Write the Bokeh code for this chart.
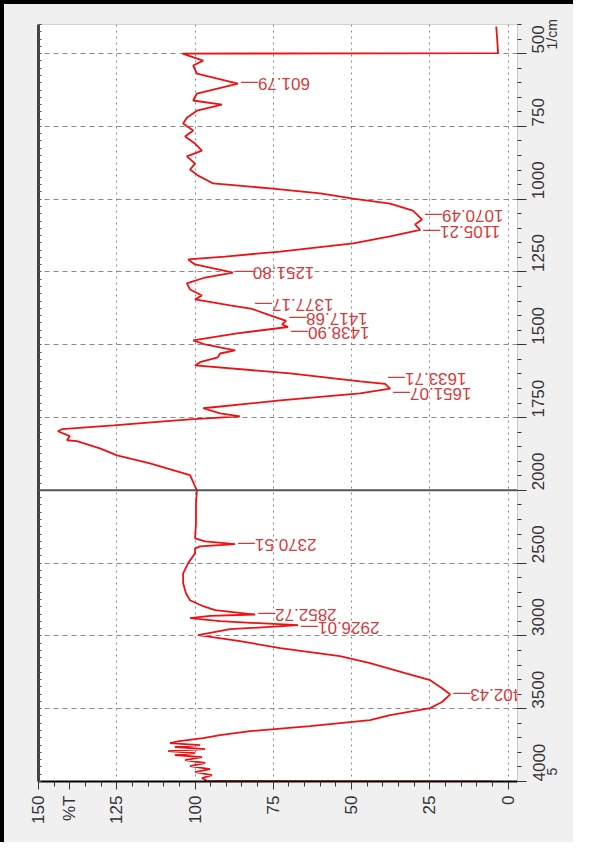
import numpy as np
from math import pi
from bokeh.plotting import figure
from bokeh.models import Range1d, FixedTicker, LinearAxis, Span, ColumnDataSource
from bokeh.core.properties import value
from bokeh.embed import file_html
from bokeh.resources import INLINE

# ---------------- data ----------------
wavenumber = [407, 449, 498, 500, 524, 541, 569, 603, 637, 661, 675, 696, 720, 740, 764, 785,
              809, 833, 853, 878, 898, 919, 946, 963, 980, 998, 1015, 1039, 1063, 1070, 1087,
              1105, 1128, 1152, 1180, 1197, 1207, 1224, 1240, 1252, 1269, 1289, 1310, 1331,
              1344, 1365, 1377, 1399, 1418, 1430, 1439, 1461, 1485, 1499, 1519, 1530, 1543,
              1560, 1571, 1598, 1626, 1634, 1651, 1667, 1691, 1718, 1736, 1746, 1756, 1763,
              1777, 1790, 1797, 1814, 1828, 1831, 1856, 1880, 1907, 1948, 2000, 2088, 2226,
              2330, 2350, 2370, 2385, 2400, 2432, 2500, 2570, 2638, 2707, 2755, 2796, 2823,
              2853, 2862, 2878, 2899, 2926, 2954, 2994, 3036, 3084, 3139, 3187, 3256, 3304,
              3359, 3402, 3454, 3496, 3544, 3578, 3619, 3654, 3682, 3702, 3722, 3736, 3750,
              3763, 3777, 3791, 3805, 3818, 3832, 3853, 3873, 3894, 3915, 3935, 3956, 3977,
              3990, 3998, 4000]
transmittance = [3.8, 3.5, 3.2, 104, 97.4, 100.6, 99.4, 86.3, 99.4, 100.6, 91.4, 99.4, 102.6,
                 103.8, 100.6, 103.2, 100, 97.8, 102.6, 100, 101.6, 99, 94.2, 76, 60, 49.5,
                 37.7, 30.4, 28.1, 27.5, 29.7, 28.1, 37.7, 49.5, 72.8, 90.4, 102.2, 100, 93,
                 87.9, 96.8, 102.6, 101.6, 97.8, 100, 88.8, 81.8, 76, 70.9, 72.2, 70.3, 86.6,
                 100.6, 96.8, 87.2, 92, 92.7, 98.4, 100, 69.6, 47.3, 39.3, 37.7, 47.3, 72.8,
                 97.4, 92, 85.6, 101.6, 110, 126, 142.5, 143.8, 140, 140.9, 137.7, 130.4,
                 124.9, 114.4, 101.6, 99.4, 99.7, 99.7, 100, 96.8, 87.2, 98.4, 100, 100, 102.2,
                 103.8, 103.8, 102.9, 101.6, 97.4, 93.6, 80.8, 95.2, 101.6, 92, 67.1, 88.8, 99,
                 85.6, 72.8, 53.7, 44.1, 32.9, 24.9, 21.1, 18.5, 21.1, 24.9, 37.7, 44.1, 63.3,
                 82.4, 92, 97.4, 105, 108, 98.4, 106.4, 96.8, 108.6, 100, 106.4, 97.8, 103.2,
                 96.8, 101.6, 95.2, 100, 94.6, 97.8, 96.5, 97, 5]

peak_labels = ["601.79", "1070.49", "1105.21", "1251.80", "1377.17", "1417.68", "1438.90",
               "1633.71", "1651.07", "2370.51", "2852.72", "2926.01", "3402.43"]
peak_wavenumber = [601.79, 1070.49, 1105.21, 1251.80, 1377.17, 1417.68, 1438.90,
                   1633.71, 1651.07, 2370.51, 2852.72, 2926.01, 3402.43]
peak_transmittance = [86.3, 27.5, 28.1, 87.9, 81.8, 70.9, 70.3, 39.3, 37.7, 87.2, 80.8, 67.1, 18.5]
label_dy = [0, -4, 2, 0, -5, -2, 6, -5, 5, 0, 0, 2, 0]  # label nudges in px

t_ticks = [0, 25, 50, 75, 100, 125, 150]
t_unit_label = "%T"
t_unit_pos = 140
wn_ticks = [500, 750, 1000, 1250, 1500, 1750, 2000, 2500, 3000, 3500, 4000]
wn_side_texts = {486: "1/cm", 3958: "5"}   # wavenumber position -> text beside the axis


def wn_axis(w):
    """Shimadzu-style axis: 4000-2000 cm-1 drawn at half scale."""
    w = np.asarray(w, dtype=float)
    return np.where(w <= 2000, w, 2000 + (w - 2000) / 2.0)


FONT = "Liberation Sans"
RED = "#ee1111"
LABEL_RED = "#d43c3c"

p = figure(width=573, height=842,
           x_range=Range1d(150, -3), y_range=Range1d(3000, 400),
           y_axis_location="right",
           output_backend="svg", toolbar_location=None,
           min_border_left=38, min_border_top=24, min_border_right=56, min_border_bottom=61,
           background_fill_color="white", border_fill_color=None,
           outline_line_color="#d0d0d0")
p.styles = {"background-color": "#f0f0f0", "box-shadow": "inset 4px 4px 0 0 #000000"}

# right (wavenumber) axis
ax = p.yaxis[0]
ax.ticker = FixedTicker(ticks=[float(v) for v in wn_axis(wn_ticks)],
                        minor_ticks=list(range(400, 3001, 50)))
ax.major_label_overrides = {int(u): str(w) for u, w in zip(wn_axis(wn_ticks), wn_ticks)}
ax.major_label_orientation = pi / 2
ax.major_label_text_font = FONT
ax.major_label_text_font_size = "17px"
ax.major_label_text_color = "#333333"
ax.major_label_standoff = 12
ax.axis_line_color = "#c8c8c8"
ax.major_tick_in = 0
ax.major_tick_out = 9
ax.minor_tick_in = 0
ax.minor_tick_out = 4
ax.major_tick_line_color = "#333333"
ax.minor_tick_line_color = "#333333"

# unit text column to the right of the wavenumber labels
side_u = [float(v) for v in wn_axis(list(wn_side_texts.keys()))]
ux = LinearAxis(ticker=FixedTicker(ticks=side_u, minor_ticks=[]),
                major_label_overrides={int(round(u)): t for u, t in zip(side_u, wn_side_texts.values())},
                major_label_orientation=pi / 2, major_label_text_font=FONT,
                major_label_text_font_size="14px", major_label_text_color="#333333",
                major_label_standoff=-1, axis_line_color=None,
                major_tick_in=0, major_tick_out=0, minor_tick_in=0, minor_tick_out=0)
p.add_layout(ux, "right")

# bottom (%T) axis, with the unit written among the tick labels
bx = p.xaxis[0]
bx.ticker = FixedTicker(ticks=t_ticks + [t_unit_pos], minor_ticks=list(range(0, 151, 5)))
bx.major_label_overrides = {t_unit_pos: t_unit_label}
bx.major_label_orientation = pi / 2
bx.major_label_text_font = FONT
bx.major_label_text_font_size = "17px"
bx.major_label_text_color = "#333333"
bx.major_label_standoff = 6
bx.axis_line_color = "black"
bx.axis_line_width = 2
bx.major_tick_in = 0
bx.major_tick_out = 8
bx.minor_tick_in = 0
bx.minor_tick_out = 5
bx.major_tick_line_color = "#333333"
bx.minor_tick_line_color = "#333333"

# left frame line with small ticks
lx = LinearAxis(ticker=FixedTicker(ticks=[], minor_ticks=list(range(400, 3001, 25))),
                major_label_text_font_size="0px", axis_line_width=3, axis_line_color="#444444",
                minor_tick_in=3, minor_tick_out=0, major_tick_in=0, major_tick_out=0,
                minor_tick_line_color="#555555")
p.add_layout(lx, "left")

# grids
p.xgrid.ticker = FixedTicker(ticks=t_ticks)
p.xgrid.grid_line_color = "#8a8a8a"
p.xgrid.grid_line_dash = "2 4"
p.ygrid.grid_line_color = "#8a8a8a"
p.ygrid.grid_line_dash = "5 4"

# 2000 cm-1 scale break
p.add_layout(Span(location=float(wn_axis(2000)), dimension="width",
                  line_color="#555555", line_width=2))

# spectrum
src = ColumnDataSource(dict(t=transmittance, u=wn_axis(wavenumber)))
p.line("t", "u", source=src, line_color=RED, line_width=1.8)

# peak annotations (upside down as in the rotated print)
lab_src = ColumnDataSource(dict(t=peak_transmittance, u=wn_axis(peak_wavenumber),
                                text=[s + "\u2014" for s in peak_labels], dy=label_dy))
p.text("t", "u", text="text", source=lab_src, angle=pi, text_align="right",
       text_baseline="middle", x_offset=3, y_offset="dy", text_color=LABEL_RED,
       text_font=value(FONT), text_font_size="17px")

open("out.html", "w").write(file_html(p, INLINE))
